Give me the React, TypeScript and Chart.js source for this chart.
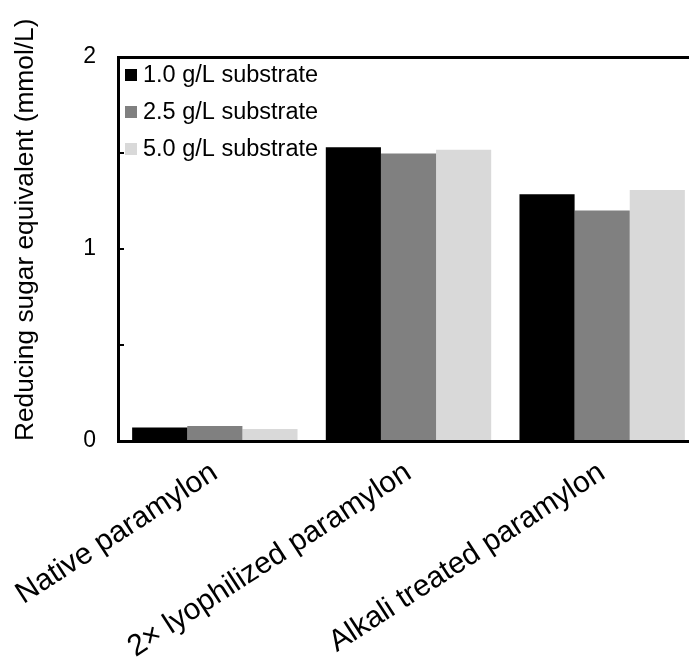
import React, { useEffect, useRef } from "react";
import { Chart, registerables } from "chart.js";

Chart.register(...registerables);

const categories = ["Native paramylon", "2\u00d7 lyophilized paramylon", "Alkali treated paramylon"];
const seriesLabels = ["1.0 g/L substrate", "2.5 g/L substrate", "5.0 g/L substrate"];
const series1 = [0.07, 1.53, 1.285];
const series2 = [0.078, 1.498, 1.2];
const series3 = [0.063, 1.517, 1.307];
const seriesColors = ["#000000", "#808080", "#d9d9d9"];
const yLabelTicks = [0, 1, 2];
const yTitle = "Reducing sugar equivalent (mmol/L)";

const FONT_FAMILY = '"Liberation Sans", Arial, sans-serif';

const insideLegend = {
  id: "insideLegend",
  afterDraw(chart: any) {
    const { ctx, chartArea } = chart;
    ctx.save();
    ctx.font = `23.5px ${FONT_FAMILY}`;
    ctx.textBaseline = "middle";
    ctx.textAlign = "left";
    chart.data.datasets.forEach((ds: any, i: number) => {
      const bx = chartArea.left + 7;
      const by = chartArea.top + 12 + i * 37;
      ctx.fillStyle = ds.backgroundColor;
      ctx.fillRect(bx, by, 12, 12);
      ctx.fillStyle = "#000";
      ctx.fillText(ds.label, bx + 18, by + 7);
    });
    ctx.restore();
  },
};

export default function App() {
  const ref = useRef<HTMLCanvasElement | null>(null);
  useEffect(() => {
    if (!ref.current) return;
    const values = [series1, series2, series3];
    const chart = new Chart(ref.current, {
      type: "bar",
      data: {
        labels: categories,
        datasets: seriesLabels.map((label, i) => ({
          label,
          data: values[i],
          backgroundColor: seriesColors[i],
          borderWidth: 0,
          categoryPercentage: 0.854,
          barPercentage: 1,
        })),
      },
      options: {
        animation: false,
        responsive: false,
        devicePixelRatio: 1,
        layout: { padding: { top: 57, left: 0, right: 1, bottom: 0 } },
        plugins: { legend: { display: false }, tooltip: { enabled: false } },
        scales: {
          x: {
            type: "category",
            position: "bottom",
            grid: { display: false, drawTicks: false },
            border: { display: true, color: "#000", width: 3 },
            ticks: {
              font: { family: FONT_FAMILY, size: 30 },
              color: "#000",
              minRotation: 33,
              maxRotation: 33,
              autoSkip: false,
              padding: 14,
            },
            afterFit: (s: any) => {
              s.height = 216;
              s.paddingLeft = 0;
              s.paddingRight = 0;
            },
          },
          xTop: {
            type: "category",
            position: "top",
            grid: { display: false, drawTicks: false },
            border: { display: true, color: "#000", width: 3 },
            ticks: { display: false },
            afterFit: (s: any) => {
              s.height = 0;
              s.paddingLeft = 0;
              s.paddingRight = 0;
            },
          },
          y: {
            min: 0,
            max: 2,
            ticks: {
              stepSize: 0.5,
              font: { family: FONT_FAMILY, size: 23 },
              color: "#000",
              padding: 28,
              callback: (v: any) => (yLabelTicks.includes(Number(v)) ? String(v) : ""),
            },
            grid: {
              display: true,
              drawOnChartArea: false,
              drawTicks: true,
              tickLength: -6,
              color: "#000",
              lineWidth: 2,
            },
            border: { display: true, color: "#000", width: 3 },
            title: {
              display: true,
              text: yTitle,
              align: "start",
              font: { family: FONT_FAMILY, size: 26.3 },
              color: "#000",
              padding: { top: 10, bottom: 0 },
            },
            afterFit: (s: any) => {
              s.width = 118;
              s.paddingTop = 0;
              s.paddingBottom = 0;
            },
          },
        },
      },
      plugins: [insideLegend],
    });
    return () => chart.destroy();
  }, []);
  return (
    <div style={{ position: "fixed", left: 0, top: 0, width: 689, height: 657, overflow: "hidden", background: "#fff" }}>
      <canvas ref={ref} width={700} height={657} style={{ width: 700, height: 657, display: "block" }} />
    </div>
  );
}
